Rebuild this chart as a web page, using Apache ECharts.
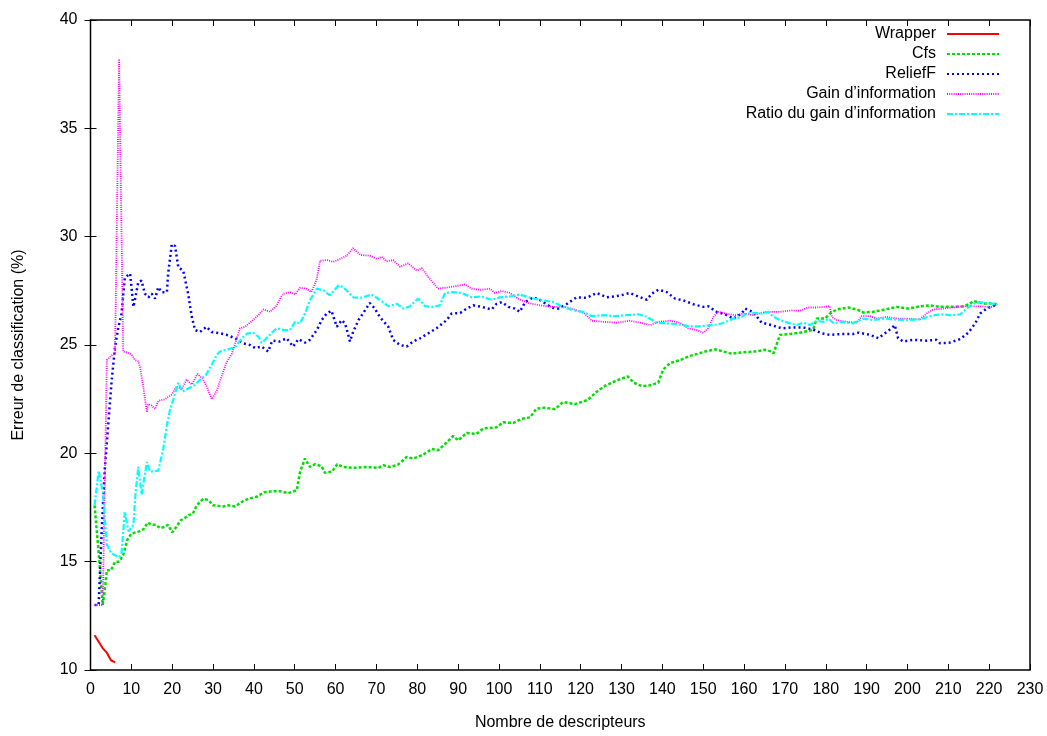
<!DOCTYPE html>
<html>
<head>
<meta charset="utf-8">
<script src="https://cdn.jsdelivr.net/npm/echarts@6/dist/echarts.min.js"></script>
<style>html,body{margin:0;padding:0;background:#fff;}#c{width:1047px;height:736px;}</style>
</head>
<body>
<div id="c"></div>
<script>
const seriesNames = ["Wrapper", "Cfs", "ReliefF", "Gain d\u2019information", "Ratio du gain d\u2019information"];

const wrapper = [[1,11.6],[2,11.3],[3,11.0],[4,10.8],[5,10.45],[6,10.35]];

const cfs = [[1,17.6],[2,15.4],[3,13.0],[3.5,13.7],[4,14.6],[5,14.6],[6,15.0],[7,15.0],[8,15.3],[9,16.0],[10,16.3],[11,16.35],[12,16.4],[13,16.5],[14,16.8],[15,16.7],[16,16.7],[17,16.55],[18,16.6],[19,16.7],[20,16.35],[21,16.6],[22,16.9],[23,17.0],[24,17.15],[25,17.2],[26,17.6],[27.6,17.9],[28.8,17.85],[30,17.6],[32.5,17.55],[33.7,17.6],[35.4,17.55],[37.4,17.8],[38.6,17.9],[40.7,18.0],[42.5,18.2],[44.4,18.25],[46.4,18.25],[48.4,18.16],[50.5,18.3],[51.3,19.15],[52.5,19.76],[53.7,19.37],[55,19.5],[56.6,19.4],[57.4,19.1],[59.1,19.15],[60.4,19.5],[61.9,19.37],[64.3,19.33],[67.6,19.37],[70.5,19.33],[71.7,19.45],[73.3,19.37],[75.3,19.48],[77.4,19.83],[79,19.76],[81.5,19.94],[83.5,20.2],[85.1,20.14],[87.2,20.5],[88.8,20.8],[90,20.6],[92.1,20.94],[94.5,20.9],[96.2,21.15],[99.4,21.2],[101,21.43],[103.5,21.4],[105.6,21.6],[107.6,21.66],[109.2,22.07],[111.3,22.1],[113.7,22.04],[115.7,22.37],[118.6,22.27],[121.7,22.46],[123.9,22.84],[126,23.12],[128.8,23.36],[131.5,23.55],[133,23.26],[135,23.1],[137,23.14],[139,23.26],[140.2,23.87],[141.9,24.17],[144.3,24.3],[146.8,24.5],[148.8,24.6],[150.5,24.7],[153,24.8],[154.9,24.7],[157,24.6],[159.5,24.66],[162.7,24.7],[165.1,24.78],[166.7,24.7],[167.2,24.62],[168.8,25.47],[170.8,25.5],[173.7,25.57],[176.1,25.66],[176.9,25.72],[177.8,26.22],[179.8,26.22],[181,26.45],[182.7,26.64],[185.5,26.73],[187.6,26.64],[189.2,26.5],[191.6,26.53],[194.5,26.64],[197.4,26.76],[200.2,26.68],[203,26.78],[205.5,26.83],[207.9,26.76],[211.2,26.76],[213.6,26.78],[215.3,26.9],[216.1,27.03],[217.3,26.98],[218.6,26.9],[219.8,26.94],[222,26.88]];

const relieff = [[1,13.0],[2,13.0],[2.3,14.4],[2.7,16.25],[3.1,17.8],[3.5,19.3],[4,20.5],[5.2,23.4],[6,24.9],[6.8,25.8],[7.6,26.45],[8.4,28.1],[9.7,28.3],[10.5,26.76],[11,27.2],[11.7,27.9],[12.5,27.97],[13.3,27.37],[14.2,27.2],[15,27.37],[15.8,27.14],[16.6,27.67],[17.4,27.44],[18.7,27.44],[19,28.28],[19.9,29.65],[20.7,29.57],[21.5,28.58],[22.7,28.43],[23.9,27.37],[24.8,26.3],[25.6,25.69],[26.8,25.6],[28.4,25.84],[29.7,25.6],[31.7,25.54],[33.3,25.47],[35.4,25.31],[37.4,25.08],[39,25.0],[40.3,24.86],[41.9,24.93],[43.5,24.7],[44.5,25.2],[46.2,25.16],[48,25.31],[49.6,24.93],[50.9,25.27],[52.5,25.11],[53.7,25.24],[55.4,25.69],[56.6,26.15],[57.8,26.45],[59,26.58],[60.3,25.84],[61.5,26.15],[62.3,26.0],[63.1,25.47],[63.5,25.16],[64.3,25.6],[65.6,26.15],[67.2,26.6],[68.4,26.94],[69.6,26.68],[70.8,26.3],[72.9,25.84],[74.1,25.24],[75.8,25.0],[77.4,24.93],[79,25.16],[80.7,25.31],[82.7,25.54],[84.7,25.77],[87.2,26.15],[88.4,26.45],[90.5,26.48],[92.1,26.68],[93.7,26.83],[95.8,26.76],[98.2,26.64],[99.4,26.9],[100.7,26.98],[102.3,26.76],[103.9,26.68],[105.1,26.53],[106.4,26.98],[108.4,27.2],[110,27.08],[112.9,26.73],[114.5,26.68],[116.5,26.88],[119,27.2],[121.5,27.18],[123.9,27.4],[126.4,27.2],[129.6,27.28],[132,27.4],[134.1,27.24],[136.2,27.09],[137.4,27.37],[139,27.55],[141.1,27.44],[143.1,27.14],[145.1,27.06],[147.6,26.88],[150,26.76],[151.2,26.79],[153.3,26.53],[155.3,26.42],[157.4,26.22],[159.4,26.45],[160.2,26.68],[162.2,26.53],[164.3,26.03],[166.7,25.92],[169.2,25.77],[171.7,25.81],[174.5,25.81],[176.9,25.72],[179,25.54],[181,25.47],[184.3,25.51],[186.7,25.51],[188,25.57],[190.8,25.47],[192.9,25.31],[194.5,25.54],[196.1,25.77],[196.9,25.92],[197.7,25.31],[199,25.16],[201.4,25.24],[204.7,25.2],[207.1,25.24],[208,25.08],[210.4,25.11],[212.9,25.27],[214.9,25.57],[216.6,26.0],[217.8,26.45],[219.4,26.68],[222,26.88]];

const gain = [[1,13],[2,13],[3,13],[4,24.3],[5,24.5],[6,24.6],[7,38.2],[8,24.7],[8.9,24.66],[10.1,24.55],[10.9,24.3],[11.7,24.25],[12.1,24.0],[12.9,23.1],[13.8,21.9],[14.1,22.27],[15,22.2],[15.8,22.04],[16.6,22.42],[18.2,22.5],[19.9,22.72],[21.1,23.1],[22.3,22.95],[23.5,23.4],[24.8,23.18],[26.2,23.67],[27.6,23.4],[28.4,23.1],[29.7,22.5],[30.9,22.9],[32.1,23.56],[33.3,24.2],[34.6,24.6],[35.8,25.3],[36.6,25.77],[37.8,25.84],[39.5,26.1],[41.1,26.38],[42.3,26.64],[44,26.53],[45.6,26.83],[46.4,27.14],[47.2,27.37],[48.8,27.44],[50.1,27.34],[51.3,27.64],[52.9,27.6],[54.1,27.44],[55.4,28.05],[56.2,28.89],[57.8,28.92],[59.4,28.84],[61.1,28.97],[62.7,29.12],[64.3,29.47],[66,29.16],[68.4,29.12],[70.1,28.97],[71.3,29.07],[72.5,28.86],[74.1,28.92],[75.8,28.61],[77.8,28.77],[79.9,28.43],[81.1,28.55],[82.7,28.13],[85.1,27.6],[86.8,27.64],[89.2,27.71],[91.7,27.8],[93.3,27.6],[95.5,27.55],[97.8,27.6],[99,27.4],[100.7,27.49],[102.7,27.4],[104.7,27.14],[107.2,26.94],[110,26.83],[113.3,26.76],[116.2,26.76],[119,26.6],[121,26.45],[122.7,26.12],[125.5,26.07],[128.8,26.03],[132,26.12],[134.5,26.03],[137,25.92],[139,26.07],[141.9,26.12],[144.3,26.03],[146.3,25.77],[148.4,25.69],[150,25.57],[151.2,25.77],[152.5,26.3],[153.7,26.53],[155.7,26.45],[157.8,26.38],[159.8,26.45],[162.2,26.38],[165.5,26.53],[168.8,26.53],[171.7,26.6],[173.7,26.58],[175.7,26.73],[177.8,26.73],[179.4,26.76],[181,26.79],[181.5,26.3],[182.7,26.15],[185.1,26.07],[187.6,26.03],[188.8,26.33],[190.8,26.33],[192.5,26.22],[194.9,26.3],[197.4,26.22],[199.8,26.22],[203,26.18],[204.7,26.45],[206.3,26.64],[208.8,26.68],[211.2,26.73],[213.6,26.78],[216.1,26.78],[218.6,26.78],[220.2,26.73],[222,26.88]];

const ratio = [[1,17.6],[2,19.2],[3,18.2],[4,15.8],[5,15.4],[6,15.3],[7,15.2],[7.6,15.4],[8.4,17.3],[9.3,16.4],[10.5,16.7],[11,18.1],[11.7,19.37],[12.5,18.1],[13.3,19.0],[13.8,19.6],[14.6,19.15],[16.6,19.2],[17.8,20.2],[18.7,21.3],[19.5,22.04],[20.3,22.5],[21.5,23.26],[22.5,22.85],[24,23.0],[25.5,23.15],[26.8,23.4],[28.2,23.6],[29.9,24.17],[30.9,24.55],[31.7,24.7],[33.7,24.8],[35.4,24.9],[37,25.3],[38.4,25.54],[39.9,25.55],[41.1,25.39],[41.9,25.1],[43.3,25.35],[44.6,25.6],[45.6,25.77],[47.2,25.69],[48.8,25.69],[50.1,26.07],[51.3,26.0],[52.5,26.45],[53.7,27.06],[55.4,27.6],[57,27.52],[58.6,27.29],[60.7,27.75],[61.9,27.67],[64.3,27.2],[66.4,27.18],[68.8,27.33],[70.8,27.09],[72.9,26.79],[75,26.9],[76.6,26.68],[78.2,26.79],[80.2,27.14],[81.9,26.79],[83.9,26.76],[85.5,26.83],[86.8,27.4],[88.8,27.44],[90.9,27.4],[93.3,27.2],[95.5,27.24],[98.2,27.09],[100.2,27.2],[102.7,27.24],[105.1,27.33],[107.6,27.18],[110,27.09],[113.3,26.98],[115.7,26.76],[118.2,26.6],[120.6,26.53],[122.7,26.33],[125.5,26.38],[128.4,26.33],[131.3,26.38],[134.1,26.42],[136.2,26.3],[138.6,26.03],[141.1,26.0],[143.5,25.97],[146,25.88],[147.6,25.84],[150,25.88],[152.5,25.92],[154.3,25.98],[156.2,26.12],[157.4,26.22],[159.4,26.3],[160.6,26.45],[162.7,26.48],[164.3,26.45],[165.9,26.53],[167.2,26.3],[168.8,26.15],[171.2,26.0],[172.9,25.92],[174.5,26.03],[176.1,25.92],[177.8,26.12],[179.4,26.07],[180.7,26.22],[181.9,26.0],[183.9,26.07],[186.7,26.0],[189.2,26.22],[191.6,26.15],[194.5,26.22],[196.5,26.18],[199.8,26.15],[203,26.18],[205.5,26.33],[207.9,26.42],[210.4,26.38],[212.9,26.41],[214.5,26.68],[216.1,26.9],[217.8,26.98],[219.4,26.94],[222,26.88]];

const seriesData = [wrapper, cfs, relieff, gain, ratio];
const colors = ['#ff0000', '#00e000', '#0000ff', '#ff00ff', '#00ffff'];
const dashes = ['solid', [3, 2], [2, 3], [1, 1.2], [6, 2, 2, 2]];
const widths = [2, 2.5, 2.5, 1.8, 2.2];

const FONT = "'Liberation Sans', Arial, Helvetica, sans-serif";
const chart = echarts.init(document.getElementById('c'), null, {renderer: 'canvas'});

const legends = seriesNames.map((n, i) => ({
  data: [n],
  right: 47,
  top: 26 + i * 20,
  orient: 'vertical',
  align: 'right',
  padding: 0,
  itemWidth: 52,
  itemHeight: 14,
  selectedMode: false,
  itemStyle: {opacity: 0},
  textStyle: {fontFamily: FONT, fontSize: 16, color: '#000', padding: [0, 6, 0, 0]}
}));

chart.setOption({
  animation: false,
  backgroundColor: '#fff',
  color: colors,
  legend: legends,
  grid: {left: 90.5, right: 17, top: 20, bottom: 59, show: true, borderColor: '#000', borderWidth: 1.5, containLabel: false},
  xAxis: [
    {type: 'value', min: 0, max: 230, interval: 10, position: 'bottom',
     name: 'Nombre de descripteurs', nameLocation: 'middle', nameGap: 45,
     nameTextStyle: {fontFamily: FONT, fontSize: 16, color: '#000'},
     axisLine: {show: false}, splitLine: {show: false},
     axisTick: {show: true, inside: true, length: 6, lineStyle: {color: '#000', width: 1}},
     axisLabel: {fontFamily: FONT, fontSize: 16, color: '#000', margin: 12}},
    {type: 'value', min: 0, max: 230, interval: 10, position: 'top',
     axisLine: {show: false}, splitLine: {show: false},
     axisTick: {show: true, inside: true, length: 6, lineStyle: {color: '#000', width: 1}},
     axisLabel: {show: false}}
  ],
  yAxis: [
    {type: 'value', min: 10, max: 40, interval: 5, position: 'left',
     name: 'Erreur de classification (%)', nameLocation: 'middle', nameGap: 64, nameRotate: 90,
     nameTextStyle: {fontFamily: FONT, fontSize: 16, color: '#000'},
     axisLine: {show: false}, splitLine: {show: false},
     axisTick: {show: true, inside: true, length: 6, lineStyle: {color: '#000', width: 1}},
     axisLabel: {fontFamily: FONT, fontSize: 16, color: '#000', margin: 13}},
    {type: 'value', min: 10, max: 40, interval: 5, position: 'right',
     axisLine: {show: false}, splitLine: {show: false},
     axisTick: {show: true, inside: true, length: 6, lineStyle: {color: '#000', width: 1}},
     axisLabel: {show: false}}
  ],
  series: seriesNames.map((n, i) => ({
    name: n,
    type: 'line',
    xAxisIndex: 0,
    yAxisIndex: 0,
    data: seriesData[i],
    symbol: 'none',
    showSymbol: false,
    smooth: false,
    lineStyle: {color: colors[i], width: widths[i], type: dashes[i]},
    itemStyle: {color: colors[i]},
    emphasis: {disabled: true}
  }))
});
</script>
</body>
</html>
